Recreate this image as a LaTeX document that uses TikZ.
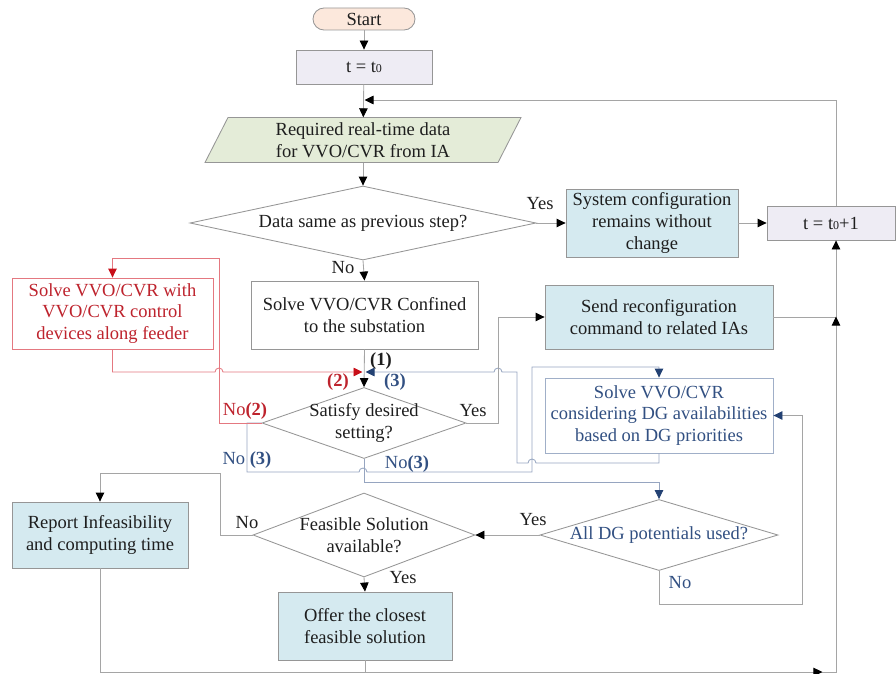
\documentclass[tikz,border=0pt]{standalone}
\usepackage{fontspec}
\setmainfont{Liberation Serif}
\usetikzlibrary{arrows.meta,shapes.geometric,decorations.markings}

\definecolor{lnGray}{RGB}{165,165,165}
\definecolor{bdGray}{RGB}{150,150,150}
\definecolor{txt}{RGB}{30,30,30}
\definecolor{txtRed}{RGB}{190,35,45}
\definecolor{txtBlue}{RGB}{50,80,130}
\definecolor{lnRed}{RGB}{228,120,128}
\definecolor{lnBlue}{RGB}{150,165,192}
\definecolor{bdBlue}{RGB}{160,175,200}
\definecolor{tipRed}{RGB}{200,15,25}
\definecolor{tipBlue}{RGB}{35,65,115}
\definecolor{fillPeach}{RGB}{252,232,220}
\definecolor{fillLav}{RGB}{238,236,244}
\definecolor{fillGreen}{RGB}{228,236,216}
\definecolor{fillCyan}{RGB}{213,234,240}

\newcommand\dgfont{\fontsize{18.5}{21.8}\selectfont}
\newcommand\tsub[1]{{\fontsize{12}{12}\selectfont #1}}

\tikzset{
  x=1pt, y=-1pt,
  base/.style={draw=bdGray, line width=0.85pt, inner sep=0pt, align=center,
               text=txt, font=\dgfont},
  box/.style={base, rectangle},
  dec/.style={base, diamond},
  txtnode/.style={inner sep=0pt, align=center, text=txt, font=\dgfont},
  lbl/.style={inner sep=0pt, text=txt, font=\dgfont},
  conn/.style={draw=lnGray, line width=0.85pt},
  redl/.style={draw=lnRed, line width=0.85pt},
  bluel/.style={draw=lnBlue, line width=0.85pt},
  tipk/.style={-{Triangle[length=9pt,width=8.5pt,color=black]}},
  tipr/.style={-{Triangle[length=9pt,width=8.5pt,color=tipRed]}},
  tipb/.style={-{Triangle[length=9pt,width=8.5pt,color=tipBlue]}},
}

\begin{document}
\begin{tikzpicture}
\useasboundingbox (0,0) rectangle (896,674);

% ---------- blocks ----------
\node[box, fill=fillPeach, rounded corners=11pt, minimum width=102pt, minimum height=22pt] (start) at (364,19) {Start};
\node[box, fill=fillLav, minimum width=136pt, minimum height=34pt] (t0) at (364,67) {t = t\tsub{0}};

\filldraw[draw=bdGray, fill=fillGreen, line width=0.85pt] (228,117.5) -- (521,117.5) -- (498,162.5) -- (205,162.5) -- cycle;
\node[txtnode, minimum width=290pt, minimum height=45pt] (data) at (363,140) {Required real-time data\\for VVO/CVR from IA};

\node[dec, fill=white, minimum width=346pt, minimum height=74pt] (d1) at (363,223) {};
\node[txtnode] (d1t) at (d1) {Data same as previous step?};

\node[box, fill=fillCyan, minimum width=172pt, minimum height=68pt] (sys) at (652,223) {System configuration\\remains without\\change};
\node[box, fill=fillLav, minimum width=128pt, minimum height=34pt] (t1) at (831,223) {t = t\tsub{0}+1};

\node[box, draw=lnRed, text=txtRed, fill=white, minimum width=201pt, minimum height=71pt] (red) at (112.5,313.5) {Solve VVO/CVR with\\VVO/CVR control\\devices along feeder};
\node[box, fill=white, minimum width=227pt, minimum height=68pt] (conf) at (364.5,315) {Solve VVO/CVR Confined\\to the substation};
\node[box, fill=fillCyan, minimum width=228pt, minimum height=64pt] (send) at (659,317) {Send reconfiguration\\command to related IAs};
\node[box, draw=bdBlue, text=txtBlue, fill=white, minimum width=228pt, minimum height=75pt] (blue) at (659,415.5) {Solve VVO/CVR\\considering DG availabilities\\based on DG priorities};

\node[dec, fill=white, minimum width=204pt, minimum height=71pt] (sat) at (364,423) {};
\node[txtnode] (satt) at (sat) {Satisfy desired\\setting?};

\node[box, fill=fillCyan, minimum width=176pt, minimum height=66pt] (report) at (100,535) {Report Infeasibility\\and computing time};
\node[dec, fill=white, minimum width=222pt, minimum height=84pt] (feas) at (364,535) {};
\node[txtnode] (feast) at (feas) {Feasible Solution\\available?};
\node[dec, fill=white, minimum width=238pt, minimum height=71pt] (alldg) at (659,535) {};
\node[txtnode, text=txtBlue] (alldgt) at (alldg) {All DG potentials used?};
\node[box, fill=fillCyan, minimum width=174pt, minimum height=68pt] (offer) at (365,626) {Offer the closest\\feasible solution};

% ---------- junction points ----------
\coordinate (jtop) at (364.5,100);
\coordinate (j1) at (364,372);
\coordinate (bot) at (836,672);

% ---------- connectors ----------
\draw[conn, tipk] (start) -- (t0);
\draw[conn, tipk] (t0) -- (data);
\draw[conn, tipk] ([xshift=5pt]t1.north) |- (jtop);
\draw[conn, tipk] (data) -- (d1);
\draw[conn, tipk] (d1.east) -- (sys.west);
\draw[conn, tipk] (sys.east) -- (t1.west);
\draw[conn, tipk] (d1.south) -- (conf.north);
\draw[conn, tipk] (conf.south) -- (sat.north);

% path (3): left exit to the DG block
\draw[bluel, tipb] (sat.west) -| (247,472) -- (359,472)
  arc[start angle=180, end angle=0, radius=4pt] -- (532,472) |- (659,367) -- (blue.north);
% path (3): back from the DG block
\draw[bluel, tipb] (blue.south) |- (536,463)
  arc[start angle=0, end angle=180, radius=4pt] -- (517,463) |- (502,372)
  arc[start angle=0, end angle=180, radius=4pt] -- ([xshift=1.5pt]j1);
% path (2)
\draw[redl, tipr] (sat.west) -| (219,258) -| (red.north);
\draw[redl, tipr] (red.south) |- (215,372)
  arc[start angle=180, end angle=0, radius=4pt] -- ([xshift=-1.5pt]j1);

\draw[conn, tipk] (sat.east) -| (498,317) -- (send.west);
\draw[bluel, tipb] (sat.south) |- (659,482) -- (alldg.north);
\draw[conn] (send.east) -- (836,317);
\draw[conn, tipk] (alldg.west) -- (feas.east);
\draw[conn, tipb] (alldg.south) |- (802,604) |- (blue.east);
\draw[conn, tipk] (feas.west) -| (220,473) -| (report.north);
\draw[conn, tipk] (feas.south) -- (offer.north);
\draw[conn] (offer.south) -- (offer.south |- bot);
\draw[conn, tipk, postaction={decorate}, decoration={markings,
    mark=at position 826pt with {\arrow{Triangle[length=9pt,width=8.5pt,color=black]}},
    mark=at position 1195pt with {\arrow{Triangle[length=9pt,width=8.5pt,color=black]}}}]
  (report.south) |- (bot) -- ([xshift=5pt]t1.south);

% ---------- labels ----------
\node[lbl] (lyes1) at (540,204) {Yes};
\node[lbl] (lno1) at (343,268) {No};
\node[lbl, font=\dgfont\bfseries] (lk1) at (381,361) {(1)};
\node[lbl, text=txtRed, font=\dgfont\bfseries] (lk2) at (338,382) {(2)};
\node[lbl, text=txtBlue, font=\dgfont\bfseries] (lk3) at (395,382) {(3)};
\node[lbl, text=txtRed] (lno2) at (245,411) {No\textbf{(2)}};
\node[lbl, text=txtBlue] (lno3a) at (247,460) {No \textbf{(3)}};
\node[lbl] (lyes2) at (473,411) {Yes};
\node[lbl, text=txtBlue] (lno3b) at (407,464) {No\textbf{(3)}};
\node[lbl] (lno4) at (247,523) {No};
\node[lbl] (lyes3) at (533,520) {Yes};
\node[lbl] (lyes4) at (403,578) {Yes};
\node[lbl, text=txtBlue] (lno5) at (680,583) {No};
\end{tikzpicture}
\end{document}
